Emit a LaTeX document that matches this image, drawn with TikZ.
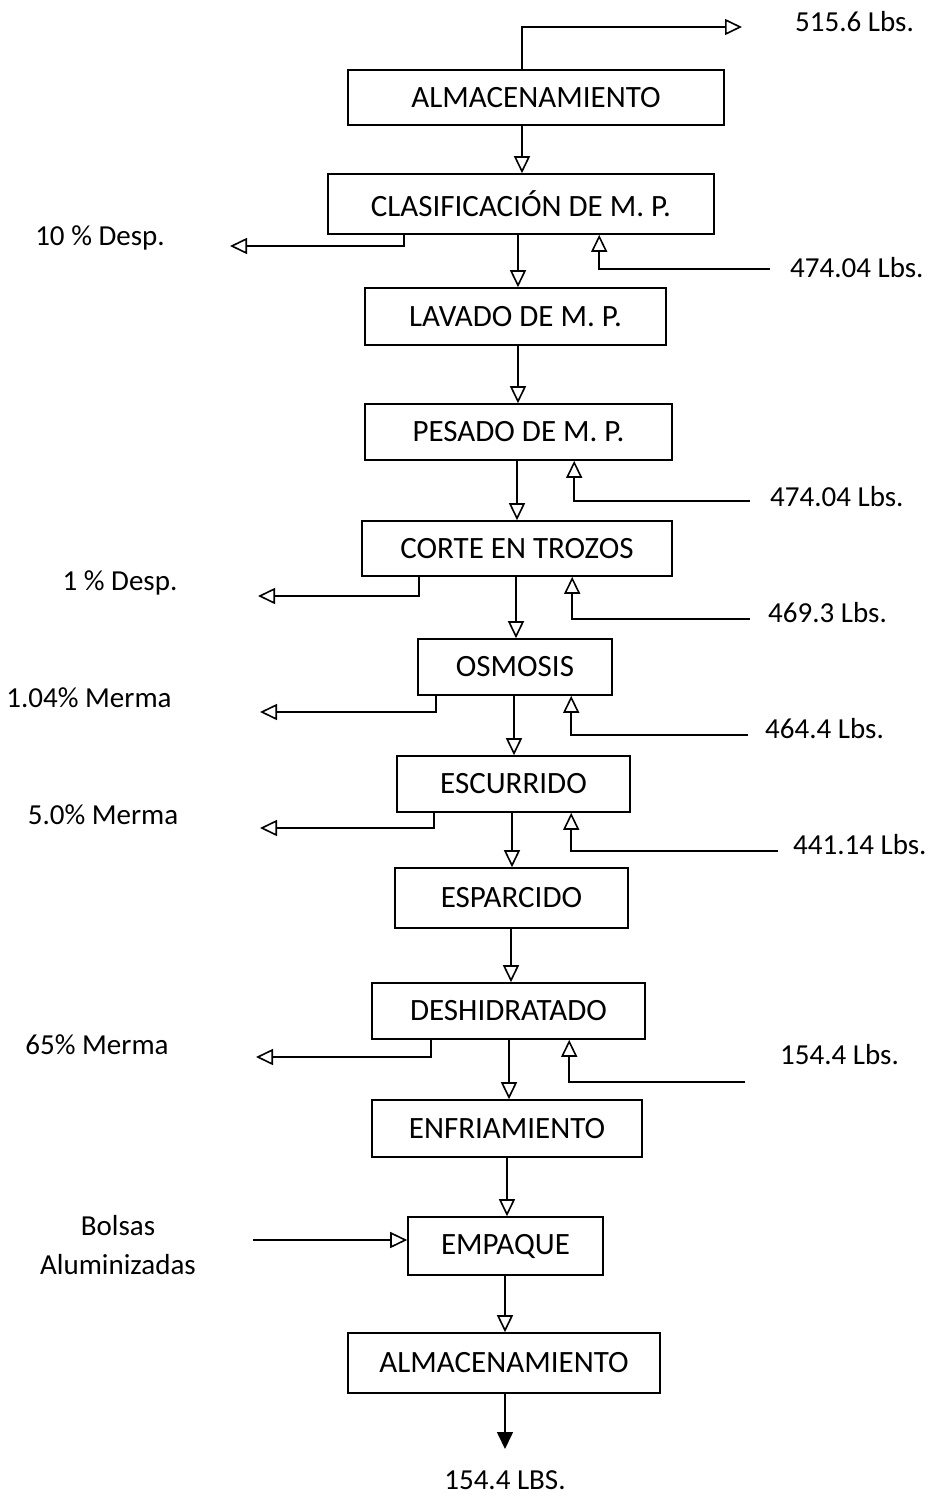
\documentclass[tikz,border=0pt]{standalone}
\usepackage{fontspec}
\setmainfont{Carlito}
\usetikzlibrary{arrows.meta,calc}
\begin{document}
\begin{tikzpicture}[x=1pt,y=-1pt,
  box/.style={draw,line width=1.6pt,inner sep=0pt,font=\fontsize{31}{36}\selectfont},
  lbl/.style={inner sep=0pt,font=\fontsize{29}{34}\selectfont},
  arr/.style={line width=1.6pt,-{Triangle[open,length=17pt,width=16pt,fill=white]}},
  arrf/.style={line width=1.6pt,-{Triangle[length=17pt,width=16pt]}}]
\useasboundingbox (0,0) rectangle (943,1500);
% boxes
\node[box,minimum width=376pt,minimum height=55pt] (A1) at (536,97.5) {ALMACENAMIENTO};
\node[box,minimum width=386pt,minimum height=60pt] (C) at (521,204) {CLASIFICACIÓN DE M. P.};
\node[box,minimum width=301pt,minimum height=57pt] (L) at (515.5,316.5) {LAVADO DE M. P.};
\node[box,minimum width=307pt,minimum height=56pt] (P) at (518.5,432) {PESADO DE M. P.};
\node[box,minimum width=310pt,minimum height=55pt] (CT) at (517,548.5) {CORTE EN TROZOS};
\node[box,minimum width=194pt,minimum height=56pt] (O) at (515,667) {OSMOSIS};
\node[box,minimum width=233pt,minimum height=56pt] (E) at (513.5,784) {ESCURRIDO};
\node[box,minimum width=233pt,minimum height=60pt] (ES) at (511.5,898) {ESPARCIDO};
\node[box,minimum width=273pt,minimum height=56pt] (D) at (508.5,1011) {DESHIDRATADO};
\node[box,minimum width=270pt,minimum height=57pt] (EN) at (507,1128.5) {ENFRIAMIENTO};
\node[box,minimum width=195pt,minimum height=58pt] (EM) at (505.5,1246) {EMPAQUE};
\node[box,minimum width=312pt,minimum height=60pt] (A2) at (504,1363) {ALMACENAMIENTO};
% labels
\node[lbl,anchor=west] (t0) at (795,22) {515.6 Lbs.};
\node[lbl] (l1) at (100,238) {10 \% Desp.};
\node[lbl,anchor=west] (r1) at (790,268) {474.04 Lbs.};
\node[lbl,anchor=west] (r2) at (770,497) {474.04 Lbs.};
\node[lbl] (l2) at (120,583) {1 \% Desp.};
\node[lbl,anchor=west] (r3) at (768,613) {469.3 Lbs.};
\node[lbl] (l3) at (89,698) {1.04\% Merma};
\node[lbl,anchor=west] (r4) at (765,729) {464.4 Lbs.};
\node[lbl] (l4) at (103,815) {5.0\% Merma};
\node[lbl,anchor=west] (r5) at (793,845) {441.14 Lbs.};
\node[lbl] (l5) at (97,1045) {65\% Merma};
\node[lbl,anchor=west] (r6) at (780,1055) {154.4 Lbs.};
\node[lbl,align=center,font=\fontsize{29}{39}\selectfont] (bol) at (118,1245) {Bolsas\\Aluminizadas};
\node[lbl] (fin) at (505,1480) {154.4 LBS.};
% free ends
\coordinate (t0e) at (742,27);
\coordinate (l1e) at (230,246);
\coordinate (r1e) at (770,269);
\coordinate (r2e) at (750,501);
\coordinate (l2e) at (258,596);
\coordinate (r3e) at (750,619);
\coordinate (l3e) at (260,712);
\coordinate (r4e) at (748,735);
\coordinate (l4e) at (260,828);
\coordinate (r5e) at (778,851);
\coordinate (l5e) at (256,1057);
\coordinate (r6e) at (745,1082);
\coordinate (bole) at (253,1240);
\coordinate (fine) at (505,1449);
% main flow
\draw[arr] ([xshift=-14pt]A1.north) |- (t0e);
\draw[arr] ([xshift=-14pt]A1.south) -- ([xshift=-14pt]A1.south |- C.north);
\draw[arr] ([xshift=-3pt]C.south) -- ([xshift=-3pt]C.south |- L.north);
\draw[arr] ([xshift=2.5pt]L.south) -- ([xshift=2.5pt]L.south |- P.north);
\draw[arr] ([xshift=-1.5pt]P.south) -- ([xshift=-1.5pt]P.south |- CT.north);
\draw[arr] ([xshift=-1pt]CT.south) -- ([xshift=-1pt]CT.south |- O.north);
\draw[arr] ([xshift=-1pt]O.south) -- ([xshift=-1pt]O.south |- E.north);
\draw[arr] ([xshift=-1.5pt]E.south) -- ([xshift=-1.5pt]E.south |- ES.north);
\draw[arr] ([xshift=-0.5pt]ES.south) -- ([xshift=-0.5pt]ES.south |- D.north);
\draw[arr] ([xshift=0.5pt]D.south) -- ([xshift=0.5pt]D.south |- EN.north);
\draw[arr] (EN.south) -- (EN.south |- EM.north);
\draw[arr] ([xshift=-0.5pt]EM.south) -- ([xshift=-0.5pt]EM.south |- A2.north);
\draw[arrf] ([xshift=1pt]A2.south) -- (fine);
% losses
\draw[arr] ([xshift=77pt]C.south west) |- (l1e);
\draw[arr] ([xshift=58pt]CT.south west) |- (l2e);
\draw[arr] ([xshift=19pt]O.south west) |- (l3e);
\draw[arr] ([xshift=38pt]E.south west) |- (l4e);
\draw[arr] ([xshift=60pt]D.south west) |- (l5e);
% inputs
\draw[arr] (r1e) -| ([xshift=272pt]C.south west);
\draw[arr] (r2e) -| ([xshift=210pt]P.south west);
\draw[arr] (r3e) -| ([xshift=211pt]CT.south west);
\draw[arr] (r4e) -| ([xshift=154pt]O.south west);
\draw[arr] (r5e) -| ([xshift=175pt]E.south west);
\draw[arr] (r6e) -| ([xshift=198pt]D.south west);
\draw[arr] (bole) -- (bole -| EM.west);
\end{tikzpicture}
\end{document}
